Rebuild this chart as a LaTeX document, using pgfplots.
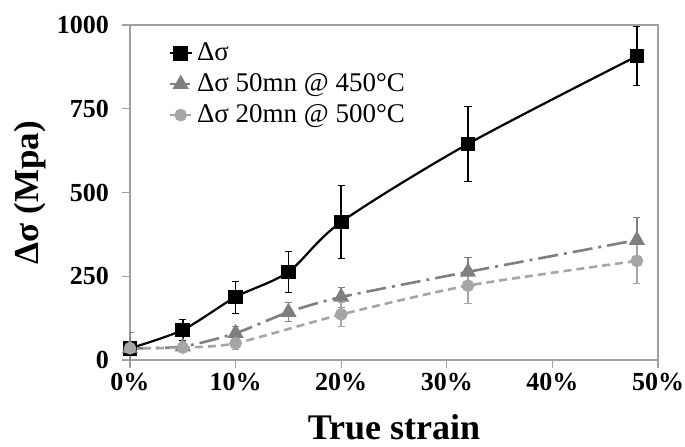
\documentclass[border=0pt]{standalone}
\usepackage{pgfplots}
\pgfplotsset{compat=1.18}
\usepackage{fontspec}
\setmainfont{Liberation Serif}
\definecolor{gA}{HTML}{7F7F7F}
\definecolor{gB}{HTML}{A6A6A6}
\definecolor{frame}{HTML}{A0A0A0}
\begin{document}
\begin{tikzpicture}
\begin{axis}[
  name=main,
  scale only axis,
  width=264pt, height=167.5pt,
  xmin=0, xmax=50, ymin=0, ymax=1000,
  xtick={0,10,20,30,40,50},
  xticklabels={0\%,10\%,20\%,30\%,40\%,50\%},
  ytick={0,250,500,750,1000},
  /pgf/number format/1000 sep={},
  /pgf/number format/assume math mode=true,
  tick label style={font=\fontsize{13}{15}\selectfont\bfseries},
  xticklabel style={yshift=1pt},
  yticklabel style={xshift=-3pt},
  axis line style={frame, line width=0.6pt},
  tick style={frame, line width=0.6pt},
  tick align=outside,
  major tick length=4pt,
  xtick pos=bottom, ytick pos=left,
  xlabel={True strain},
  ylabel={Δσ (Mpa)},
  xlabel style={font=\fontsize{18}{20}\selectfont\bfseries, at={(axis description cs:0.5,-0.2)}, anchor=center},
  ylabel style={font=\fontsize{17.5}{20}\selectfont\bfseries, at={(axis description cs:-0.19,0.5)}, anchor=center, rotate=0},
  legend style={draw=none, fill=none, at={(0.072,0.96)}, anchor=north west,
    font=\fontsize{13.5}{16}\selectfont, row sep=1pt, inner sep=0pt},
  legend cell align=left,
  legend image code/.code={
    \draw[#1] (0pt,0pt) -- (11pt,0pt);
    \path[#1,solid] plot coordinates {(5.5pt,0pt)};
  },
]
\addplot[black, line width=1.1pt, smooth, tension=0.5, mark=square*, mark size=3.1pt,
  mark options={solid},
  error bars/.cd, y dir=both, y explicit, error bar style={black, line width=0.8pt}, error mark options={rotate=90, mark size=1.8pt, black}]
  table[x=x, y=y, y error=e] {
x y e
0 35 0
5 90 32
10 188 48
15 263 62
20 412 108
32 645 113
48 907 88
};
\addlegendentry{Δσ}
\addplot[gA, line width=1.3pt, smooth, tension=0.4, dash pattern=on 10pt off 3pt on 1.5pt off 3pt,
  mark=triangle*, mark size=3.4pt, mark options={solid, fill=gA},
  error bars/.cd, y dir=both, y explicit, error bar style={gA, line width=0.8pt, solid}, error mark options={rotate=90, mark size=1.8pt, gA}]
  table[x=x, y=y, y error=e] {
x y e
0 35 48
5 40 0
10 80 21
15 143 28
20 188 30
32 263 42
48 358 69
};
\addlegendentry{Δσ 50mn @ 450°C}
\addplot[gB, line width=1.3pt, smooth, tension=0.4, dash pattern=on 4pt off 2.5pt,
  mark=*, mark size=2.5pt, mark options={solid, fill=gB},
  error bars/.cd, y dir=both, y explicit, error bar style={gB, line width=0.8pt, solid}, error mark options={rotate=90, mark size=1.8pt, gB}]
  table[x=x, y=y, y error=e] {
x y e
0 35 0
5 37 0
10 50 18
20 136 35
32 222 52
48 296 66
};
\addlegendentry{Δσ 20mn @ 500°C}
\end{axis}
\pgfresetboundingbox
\path[use as bounding box] ([xshift=-65pt,yshift=-43pt]main.south west) rectangle ++(342.5pt,223pt);
\end{tikzpicture}
\end{document}
